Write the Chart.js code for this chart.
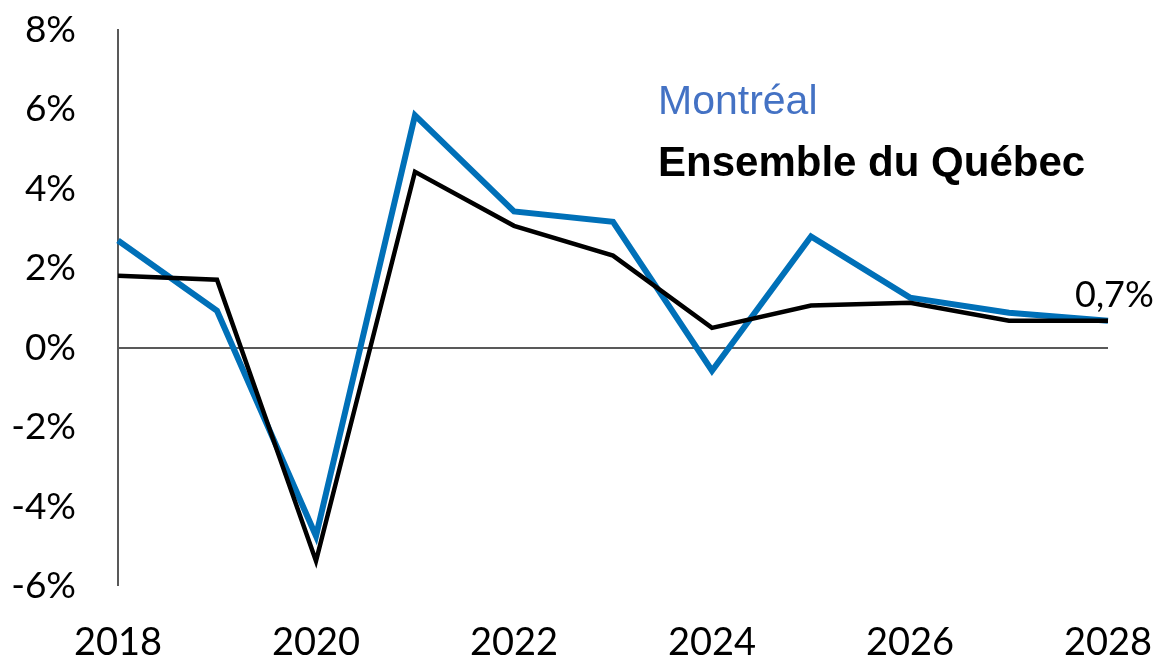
<!DOCTYPE html>
<html>
<head>
<meta charset="utf-8">
<script src="https://cdn.jsdelivr.net/npm/chart.js@4"></script>
<style>
  html, body { margin: 0; padding: 0; background: #fff; }
  #wrap { width: 1165px; height: 659px; }
</style>
</head>
<body>
<div id="wrap"><canvas id="chart" width="1165" height="659"></canvas></div>
<script>
const years = ['2018', '2019', '2020', '2021', '2022', '2023', '2024', '2025', '2026', '2027', '2028'];
const montreal = [2.7, 0.93, -4.74, 5.85, 3.43, 3.17, -0.58, 2.8, 1.26, 0.88, 0.68];
const quebec = [1.81, 1.71, -5.37, 4.43, 3.07, 2.32, 0.5, 1.06, 1.13, 0.68, 0.68];
const yTicks = [8, 6, 4, 2, 0, -2, -4, -6];
const lastLabel = '0,7%';

// legend text and end label drawn on top of the chart
const annotations = {
    id: 'annotations',
    afterDatasetsDraw(chart) {
        const ctx = chart.ctx;
        ctx.save();
        ctx.textBaseline = 'alphabetic';
        ctx.textAlign = 'left';
        ctx.fillStyle = '#4472C4';
        ctx.font = '41px "Liberation Sans", Arial, sans-serif';
        ctx.fillText('Montréal', 658, 114);
        ctx.fillStyle = '#000';
        ctx.font = 'bold 42px "Liberation Sans", Arial, sans-serif';
        ctx.fillText('Ensemble du Québec', 658, 176);

        const x = chart.scales.x.getPixelForValue(years.length - 1);
        const y = chart.scales.y.getPixelForValue(montreal[montreal.length - 1]);
        ctx.font = '36px Lato, sans-serif';
        ctx.fillText(lastLabel, x - 33, y - 14);
        ctx.restore();
    }
};

new Chart(document.getElementById('chart'), {
    type: 'line',
    data: {
        labels: years,
        datasets: [{
            label: 'Ensemble du Québec',
            data: quebec,
            borderColor: '#000000',
            borderWidth: 4.5,
            pointRadius: 0,
            tension: 0
        }, {
            label: 'Montréal',
            data: montreal,
            borderColor: '#0070B8',
            borderWidth: 6,
            pointRadius: 0,
            tension: 0
        }]
    },
    options: {
        responsive: false,
        animation: false,
        layout: { padding: { top: 30, right: 57, left: 0, bottom: 0 } },
        plugins: {
            legend: { display: false },
            tooltip: { enabled: false }
        },
        scales: {
            x: {
                offset: false,
                grid: { display: false, drawTicks: false },
                border: { display: false },
                ticks: {
                    autoSkip: false,
                    maxRotation: 0,
                    padding: 34,
                    color: '#000',
                    font: { family: 'Lato', size: 38 },
                    callback: function(value, index) {
                        return index % 2 === 0 ? years[index] : '';
                    }
                },
                afterFit: function(scale) {
                    scale.height = 73;
                    scale.paddingLeft = 0;
                    scale.paddingRight = 0;
                }
            },
            y: {
                min: -6,
                max: 8,
                afterBuildTicks: function(scale) {
                    scale.ticks = yTicks.map(v => ({ value: v }));
                },
                grid: {
                    drawTicks: false,
                    lineWidth: ctx => ctx.tick && ctx.tick.value === 0 ? 2 : 0,
                    color: '#595959'
                },
                border: { display: true, color: '#595959', width: 2 },
                ticks: {
                    padding: 42,
                    color: '#000',
                    font: { family: 'Lato', size: 37 },
                    callback: value => value + '%'
                },
                afterFit: function(scale) {
                    scale.width = 118;
                    scale.paddingTop = 0;
                    scale.paddingBottom = 0;
                }
            }
        }
    },
    plugins: [annotations]
});
</script>
</body>
</html>
